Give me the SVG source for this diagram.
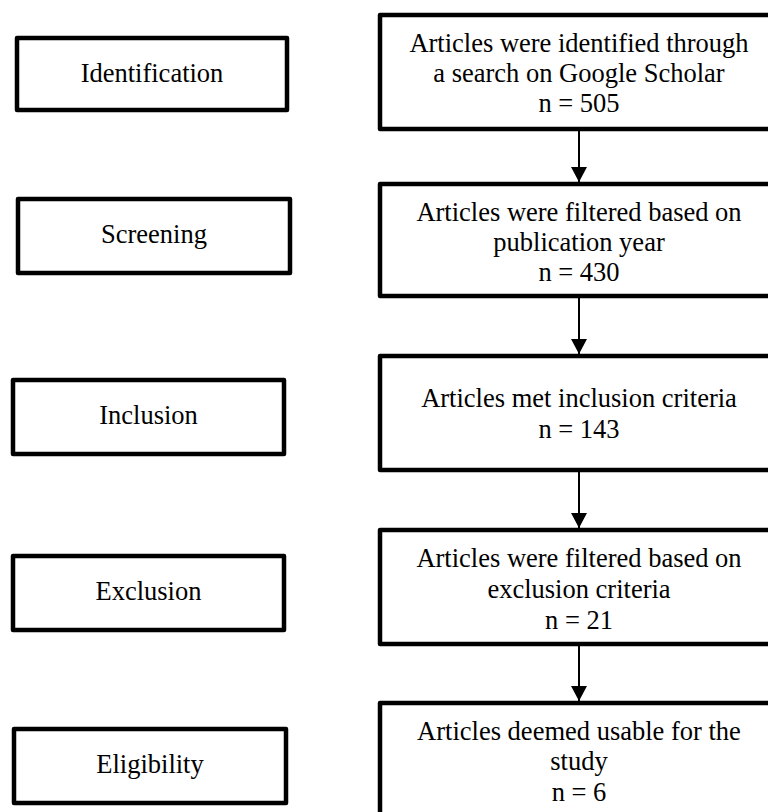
<svg xmlns="http://www.w3.org/2000/svg" width="768" height="812" viewBox="0 0 768 812">
<style>
.box{fill:#fff;stroke:#000;stroke-width:4.5;stroke-linejoin:round}
.t{font-family:"Liberation Serif","Times New Roman",serif;font-size:26.5px;fill:#000;text-anchor:middle}
.con{stroke:#000;stroke-width:2;fill:none}
</style>
<defs>
<marker id="ah" viewBox="0 0 15 16" refX="15" refY="8" markerWidth="15" markerHeight="16" orient="auto" markerUnits="userSpaceOnUse">
<path d="M0,0 L15,8 L0,16 z" fill="#000"/>
</marker>
</defs>
<rect width="768" height="812" fill="#fff"/>
<g id="stage-identification"><rect class="box" x="17" y="38" width="270" height="72"/><text class="t" x="152" y="82">Identification</text></g>
<g id="stage-screening"><rect class="box" x="18" y="199" width="272" height="74"/><text class="t" x="154" y="243">Screening</text></g>
<g id="stage-inclusion"><rect class="box" x="13" y="380" width="271" height="74"/><text class="t" x="148.5" y="424">Inclusion</text></g>
<g id="stage-exclusion"><rect class="box" x="13" y="556" width="271" height="74"/><text class="t" x="148.5" y="600">Exclusion</text></g>
<g id="stage-eligibility"><rect class="box" x="14" y="729" width="272" height="74"/><text class="t" x="150" y="773">Eligibility</text></g>
<g id="step-identified"><rect class="box" x="380" y="15" width="400" height="114"/><text class="t" x="579" y="52">Articles were identified through</text><text class="t" x="579" y="82">a search on Google Scholar</text><text class="t" x="579" y="112">n = 505</text></g>
<g id="step-screened"><rect class="box" x="380" y="184" width="400" height="112"/><text class="t" x="579" y="221">Articles were filtered based on</text><text class="t" x="579" y="251">publication year</text><text class="t" x="579" y="281">n = 430</text></g>
<g id="step-included"><rect class="box" x="380" y="356" width="400" height="114"/><text class="t" x="579" y="407">Articles met inclusion criteria</text><text class="t" x="579" y="438">n = 143</text></g>
<g id="step-excluded"><rect class="box" x="380" y="530" width="400" height="114"/><text class="t" x="579" y="567">Articles were filtered based on</text><text class="t" x="579" y="598">exclusion criteria</text><text class="t" x="579" y="629">n = 21</text></g>
<g id="step-eligible"><rect class="box" x="380" y="703" width="400" height="114"/><text class="t" x="579" y="740">Articles deemed usable for the</text><text class="t" x="579" y="770">study</text><text class="t" x="579" y="801">n = 6</text></g>
<g id="connectors">
<line class="con" x1="579" y1="131" x2="579" y2="182" marker-end="url(#ah)"/>
<line class="con" x1="579" y1="298" x2="579" y2="354" marker-end="url(#ah)"/>
<line class="con" x1="579" y1="472" x2="579" y2="528" marker-end="url(#ah)"/>
<line class="con" x1="579" y1="646" x2="579" y2="701" marker-end="url(#ah)"/>
</g>
</svg>
